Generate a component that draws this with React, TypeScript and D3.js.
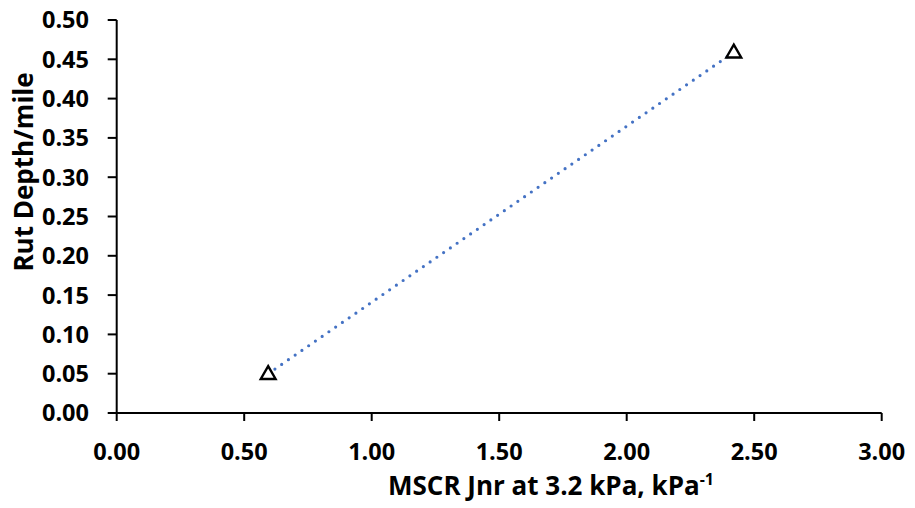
import React from "react";
import * as d3 from "d3";

const jnrValues = [0.594, 2.42];
const rutValues = [0.05, 0.459];
const xTicks = [0, 0.5, 1, 1.5, 2, 2.5, 3];
const yTicks = [0, 0.05, 0.1, 0.15, 0.2, 0.25, 0.3, 0.35, 0.4, 0.45, 0.5];

const W = 915;
const H = 508;
const FONT = "'Open Sans', Lato, sans-serif";

export default function App() {
  const x = d3.scaleLinear().domain([0, 3]).range([116.7, 881.7]);
  const y = d3.scaleLinear().domain([0, 0.5]).range([413, 20]);
  const pts = jnrValues.map((v, i) => [v, rutValues[i]] as [number, number]);
  const line = d3
    .line<[number, number]>()
    .x((d) => x(d[0]))
    .y((d) => y(d[1]));
  const tri = d3.symbol().type(d3.symbolTriangle).size(95)();

  return (
    <svg
      width={W}
      height={H}
      style={{ position: "absolute", left: 0, top: 0, background: "#fff" }}
      fontFamily={FONT}
      fontWeight={700}
    >
      <rect x={0} y={0} width={W} height={H} fill="#fff" />
      <path
        d={line(pts) || ""}
        fill="none"
        stroke="#4472C4"
        strokeWidth={3.2}
        strokeLinecap="round"
        strokeDasharray="0 8.2"
      />
      <line x1={x(0)} x2={x(3)} y1={y(0)} y2={y(0)} stroke="#000" strokeWidth={2} />
      <line x1={x(0)} x2={x(0)} y1={y(0)} y2={y(0.5)} stroke="#000" strokeWidth={2} />
      {xTicks.map((t) => (
        <g key={"x" + t}>
          <line x1={x(t)} x2={x(t)} y1={y(0)} y2={y(0) + 8} stroke="#000" strokeWidth={2} />
          <text x={x(t)} y={460} textAnchor="middle" fontSize={23.5} fill="#000">
            {t.toFixed(2)}
          </text>
        </g>
      ))}
      {yTicks.map((t) => (
        <g key={"y" + t}>
          <line x1={x(0) - 9} x2={x(0)} y1={y(t)} y2={y(t)} stroke="#000" strokeWidth={2} />
          <text x={89} y={y(t)} dy="0.36em" textAnchor="end" fontSize={23.5} fill="#000">
            {t.toFixed(2)}
          </text>
        </g>
      ))}
      {pts.map((p, i) => (
        <path
          key={"p" + i}
          d={tri || ""}
          transform={`translate(${x(p[0])},${y(p[1]) + 1})`}
          fill="#fff"
          stroke="#000"
          strokeWidth={2.4}
        />
      ))}
      <text x={551} y={495} textAnchor="middle" fontSize={26} fill="#000">
        MSCR Jnr at 3.2 kPa, kPa
        <tspan fontSize={16} dy={-10}>-1</tspan>
      </text>
      <text
        transform="translate(33,172) rotate(-90)"
        textAnchor="middle"
        fontSize={26}
        fill="#000"
      >
        Rut Depth/mile
      </text>
    </svg>
  );
}
